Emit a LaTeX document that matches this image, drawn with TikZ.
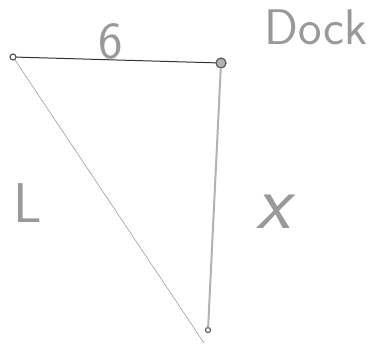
\documentclass[tikz,border=0pt]{standalone}
\usepackage{xcolor}
\usetikzlibrary{positioning}
\tikzset{
  sketchdot/.style={circle, draw=gray!70!black, line width=1.2pt, inner sep=0pt, minimum size=6pt},
  sketchlbl/.style={text=gray!80, inner sep=0pt, font=\sffamily},
}

\begin{document}
\begin{tikzpicture}[
  x=1pt, y=-1pt,
  edgeline/.style={draw=gray!80!black, line width=0.8pt, line cap=round},
]
  \useasboundingbox (0,0) rectangle (383,348);

  \node[sketchdot]                              (shore) at (13,57)  {};
  \node[sketchdot, fill=gray!60, minimum size=10pt] (dock)  at (221,63) {};
  \node[sketchdot, minimum size=5pt]            (boat)  at (208,330) {};
  \coordinate (tip) at (204,343);

  \draw[edgeline, draw=black!80, line width=1pt] (shore) -- (dock);
  \draw[edgeline, draw=gray!60, line width=2pt] (dock) -- (boat);
  \draw[edgeline, draw=gray!70, line width=0.7pt] (shore) -- (tip);

  \node[sketchlbl, font=\sffamily\fontsize{52}{52}\selectfont] (six)  at (111,41)  {6};
  \node[sketchlbl, font=\sffamily\fontsize{50}{50}\selectfont] (dlbl) at (316,27)  {Dock};
  \node[sketchlbl, font=\sffamily\fontsize{56}{56}\selectfont] (llbl) at (28,203)  {L};
  \node[sketchlbl, font=\sffamily\itshape\fontsize{78}{78}\selectfont] (xlbl) at (273,212) {x};
\end{tikzpicture}
\end{document}
